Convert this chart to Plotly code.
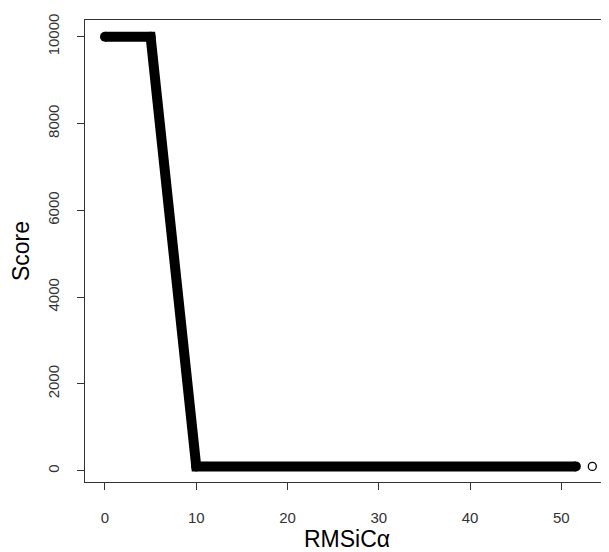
import plotly.graph_objects as go

# vertices of the dense run of points
rmsd_path = [0, 5, 10, 51.6]
score_path = [10000, 10000, 100, 100]
# isolated point
outlier_rmsd = [53.4]
outlier_score = [100]

x_ticks = [0, 10, 20, 30, 40, 50]
y_ticks = [0, 2000, 4000, 6000, 8000, 10000]
y_tick_text = ["0", "2000", "4000", "6000", "8000", "10000"]

fig = go.Figure()
fig.add_trace(go.Scatter(
    x=rmsd_path, y=score_path, mode="lines+markers",
    line=dict(color="black", width=10),
    marker=dict(color="black", size=10, symbol="circle"),
    hoverinfo="skip", showlegend=False))
fig.add_trace(go.Scatter(
    x=outlier_rmsd, y=outlier_score, mode="markers",
    marker=dict(color="white", size=8, symbol="circle",
                line=dict(color="black", width=1.3)),
    cliponaxis=False, showlegend=False))

font_family = "Liberation Sans, Arial, Helvetica, sans-serif"
# the page body adds an 8px margin, so the figure is 8px smaller
fig.update_layout(
    width=601, height=544,
    margin=dict(l=77, r=0, t=12, b=70),
    paper_bgcolor="white", plot_bgcolor="white",
    font=dict(family=font_family, color="black"),
)
fig.update_xaxes(
    range=[-2.19, 55.23], tickvals=x_ticks, ticks="outside", ticklen=7,
    tickcolor="#333", tickwidth=1, showgrid=False, zeroline=False,
    showline=True, linecolor="#333", linewidth=1, mirror=True,
    tickfont=dict(size=15, color="#333"), ticklabelstandoff=15,
    automargin=False,
    title=dict(text="RMSiCα", font=dict(size=23), standoff=4),
)
fig.update_yaxes(
    range=[-260, 10385], tickvals=y_ticks, ticktext=y_tick_text,
    ticks="outside", ticklen=7,
    tickcolor="#333", tickwidth=1, showgrid=False, zeroline=False,
    showline=True, linecolor="#333", linewidth=1, automargin=False,
    tickangle=-90, tickfont=dict(size=15, color="#333"), ticklabelstandoff=12,
    title=dict(text="Score", font=dict(size=23), standoff=19),
)
fig.write_html("out.html")
